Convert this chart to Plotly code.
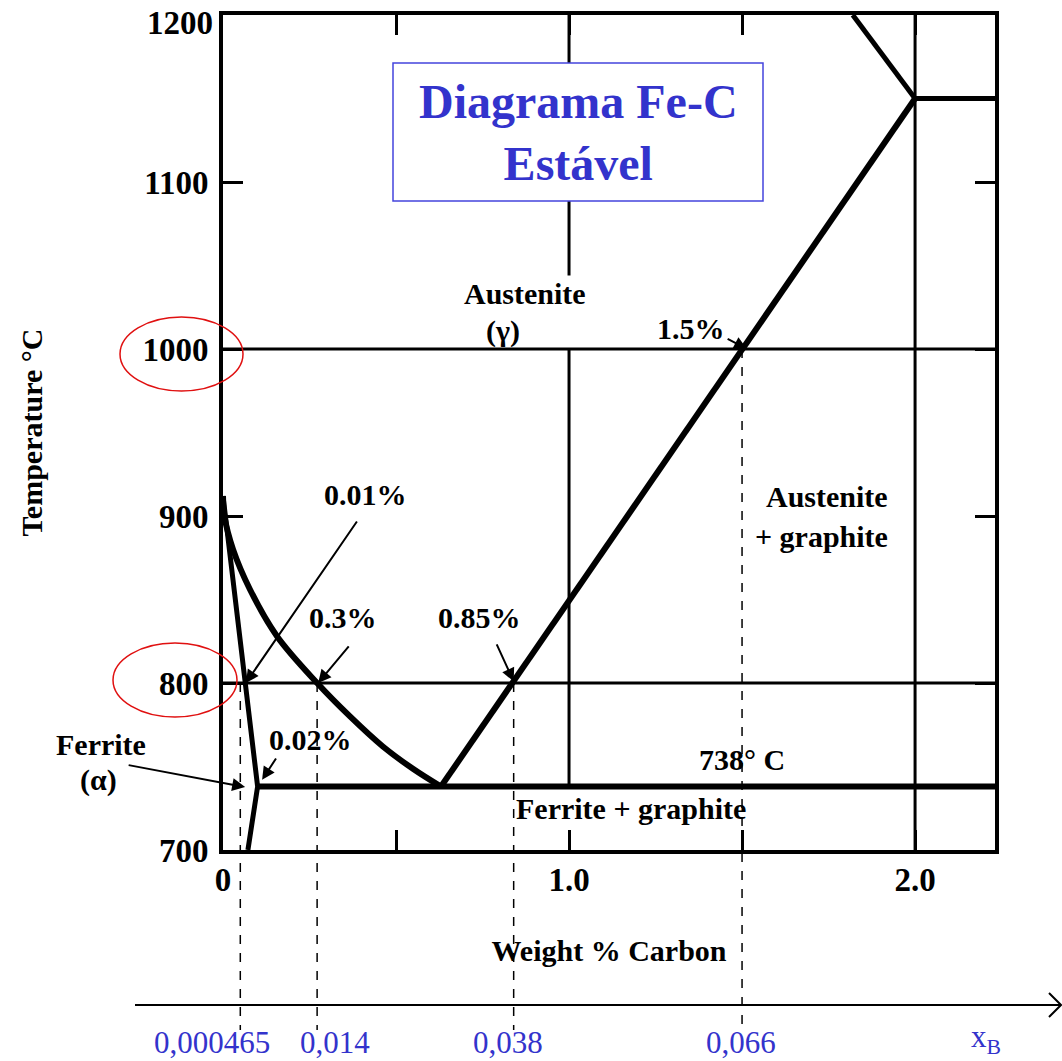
import plotly.graph_objects as go

# ---------------- data ----------------
X_MIN, X_MAX = 0.0, 2.231
T_MIN, T_MAX = 700, 1200

# A3 boundary (alpha+gamma / gamma), wt% C vs T
a3_x = [0.0, 0.004, 0.029, 0.078, 0.156, 0.272, 0.367, 0.462, 0.55, 0.63]
a3_t = [912, 900, 880, 856, 828, 800, 780, 762, 748.5, 738]

# ferrite solvus
fs_x = [0.0, 0.065, 0.10, 0.072]
fs_t = [912, 800, 738, 700]

# eutectoid
eut_t = 738
eut_x0 = 0.10

# Acm (gamma / gamma+graphite)
acm_x = [0.63, 2.0]
acm_t = [738, 1150]

# liquidus piece and eutectic line
liq_x = [1.82, 2.0]
liq_t = [1200, 1150]
eutectic_t = 1150
eutectic_x0 = 2.0

# reference isotherms
iso_t = [1000, 800]

# vertical reference lines
v2_x = 2.0
v1_x = 1.0
v1_segments = [(738, 1000), (1044, 1200)]

# dashed projections: diagram position, start temperature, xB label
dash_pos = [0.05, 0.272, 0.84, 1.50]
dash_t = [800, 800, 800, 1000]
xb_labels = ["0,000465", "0,014", "0,038", "0,066"]
xb_label_px = [212, 335, 508, 741]

y_ticks = [700, 800, 900, 1000, 1100, 1200]
y_ticktext = ["700", "800", "900", "1000", "1100", ""]   # top label drawn separately (sits lower)
y_top_label = "1200"
x_tickvals = [0, 0.5, 1.0, 1.5, 2.0]
x_ticktext = ["0", "", "1.0", "", "2.0"]

# region / value labels (text, x, T)
labels = [
    ("Austenite", 0.873, 1033),
    ("(γ)", 0.809, 1011),
    ("1.5%", 1.353, 1012.5),
    ("0.01%", 0.413, 913),
    ("0.3%", 0.347, 839.5),
    ("0.85%", 0.74, 839),
    ("Austenite", 1.746, 911.5),
    ("+ graphite", 1.731, 888),
    ("0.02%", 0.254, 766),
    ("738° C", 1.50, 754),
    ("Ferrite + graphite", 1.179, 725),
]
# arrows: head (x, T), tail (x, T)
arrows = [
    ((0.066, 800), (0.39, 897.6)),
    ((0.275, 800), (0.367, 822.8)),
    ((0.84, 801), (0.789, 824)),
    ((1.514, 1000), (1.454, 1006.6)),
    ((0.113, 742), (0.156, 755.7)),
    ((0.064, 737.7), (-0.277, 751)),
]

# ---------------- geometry helpers (pixel -> paper) ----------------
W, H = 1062, 1061
L, R, TOP, B = 223, 67, 15, 211
PW, PH = W - L - R, H - TOP - B


def px(xp):
    return (xp - L) / PW


def py(yp):
    return (H - B - yp) / PH


def tpaper(t):
    return (t - T_MIN) / (T_MAX - T_MIN)


FONT = "Liberation Serif"
BLACK = "black"
BLUE = "#3333cc"

fig = go.Figure()


def add_line(x, y, w, shape="linear"):
    fig.add_trace(go.Scatter(x=x, y=y, mode="lines", line=dict(color=BLACK, width=w, shape=shape),
                             hoverinfo="skip", showlegend=False))


# thin reference lines
for t in iso_t:
    add_line([X_MIN, X_MAX], [t, t], 3)
add_line([v2_x, v2_x], [T_MIN, T_MAX], 3)
vx, vy = [], []
for a, b in v1_segments:
    vx += [v1_x, v1_x, None]
    vy += [a, b, None]
add_line(vx, vy, 3)

# phase boundaries
add_line(a3_x, a3_t, 6, "spline")
add_line(fs_x, fs_t, 5)
add_line([eut_x0, X_MAX], [eut_t, eut_t], 6)
add_line(acm_x, acm_t, 6)
add_line(liq_x, liq_t, 5)
add_line([eutectic_x0, X_MAX], [eutectic_t, eutectic_t], 5)

shapes = []
# dashed projection lines down to xB axis
for xp_, t in zip(dash_pos, dash_t):
    shapes.append(dict(type="line", xref="x", yref="paper", x0=xp_, x1=xp_,
                       y0=tpaper(t), y1=py(1030), line=dict(color=BLACK, width=1.5, dash="dash")))
# xB axis with open arrow head
shapes.append(dict(type="line", xref="paper", yref="paper", x0=px(135), x1=px(1060),
                   y0=py(1005), y1=py(1005), line=dict(color=BLACK, width=2)))
shapes.append(dict(type="path", xref="paper", yref="paper",
                   path=f"M {px(1049)} {py(993)} L {px(1061)} {py(1005)} L {px(1049)} {py(1017)}",
                   line=dict(color=BLACK, width=2)))
# red ellipses around 1000 and 800
shapes.append(dict(type="circle", xref="paper", yref="paper", x0=px(120), x1=px(243),
                   y0=py(317), y1=py(391), line=dict(color="#e01010", width=1.5)))
shapes.append(dict(type="circle", xref="paper", yref="paper", x0=px(113), x1=px(237),
                   y0=py(643), y1=py(717), line=dict(color="#e01010", width=1.5)))
# title box
shapes.append(dict(type="rect", xref="paper", yref="paper", x0=px(393), x1=px(763),
                   y0=py(63), y1=py(201), fillcolor="white", layer="above",
                   line=dict(color="#4444dd", width=1.5)))

C = dict(xanchor="center", yanchor="middle", showarrow=False)
ann = []
for text, x, t in labels:
    ann.append(dict(text=text, x=x, y=t, xref="x", yref="y", **C,
                    font=dict(family=FONT, size=30, color=BLACK, weight="bold")))
ann.append(dict(text="Ferrite", x=px(101), y=763, xref="paper", yref="y", **C,
                font=dict(family=FONT, size=30, color=BLACK, weight="bold")))
ann.append(dict(text="(α)", x=px(98), y=742, xref="paper", yref="y", **C,
                font=dict(family=FONT, size=30, color=BLACK, weight="bold")))
# top y tick label, drawn just below the frame like in the original
ann.append(dict(text=y_top_label, x=px(215), y=py(23), xref="paper", yref="paper",
                xanchor="right", yanchor="middle", showarrow=False,
                font=dict(family=FONT, size=33, color=BLACK, weight="bold")))
for (hx, ht), (tx, tt) in arrows:
    ann.append(dict(text="", x=hx, y=ht, xref="x", yref="y", ax=tx, ay=tt, axref="x", ayref="y",
                    showarrow=True, arrowhead=2, arrowsize=1.3, arrowwidth=2, arrowcolor=BLACK))
for lab, lpx in zip(xb_labels, xb_label_px):
    ann.append(dict(text=lab, x=px(lpx), y=py(1042), xref="paper", yref="paper", **C,
                    font=dict(family=FONT, size=31, color=BLUE)))
ann.append(dict(text="x<sub>B</sub>", x=px(986), y=py(1039), xref="paper", yref="paper", **C,
                font=dict(family=FONT, size=31, color=BLUE)))
ann.append(dict(text="Diagrama Fe-C<br>Estável", x=px(578), y=py(132), xref="paper", yref="paper", **C,
                font=dict(family=FONT, size=48, color=BLUE, weight="bold")))

fig.update_layout(
    width=W, height=H,
    margin=dict(l=L, r=R, t=TOP, b=B, autoexpand=False),
    paper_bgcolor="white", plot_bgcolor="white",
    shapes=shapes, annotations=ann,
    xaxis=dict(range=[X_MIN, X_MAX], showgrid=False, zeroline=False, showline=True, linewidth=4,
               linecolor=BLACK, mirror="ticks", ticks="inside", ticklen=20, tickwidth=3, tickcolor=BLACK,
               tickvals=x_tickvals, ticktext=x_ticktext, ticklabelstandoff=-3,
               tickfont=dict(family=FONT, size=33, color=BLACK, weight="bold"),
               title=dict(text="Weight % Carbon", standoff=44,
                          font=dict(family=FONT, size=30, color=BLACK, weight="bold"))),
    yaxis=dict(range=[T_MIN, T_MAX], showgrid=False, zeroline=False, showline=True, linewidth=4,
               linecolor=BLACK, mirror="ticks", ticks="inside", ticklen=20, tickwidth=3, tickcolor=BLACK,
               tickvals=y_ticks, ticktext=y_ticktext, ticklabelstandoff=4,
               tickfont=dict(family=FONT, size=33, color=BLACK, weight="bold"),
               title=dict(text="Temperature °C", standoff=92,
                          font=dict(family=FONT, size=30, color=BLACK, weight="bold"))),
)

fig.write_html("out.html")
